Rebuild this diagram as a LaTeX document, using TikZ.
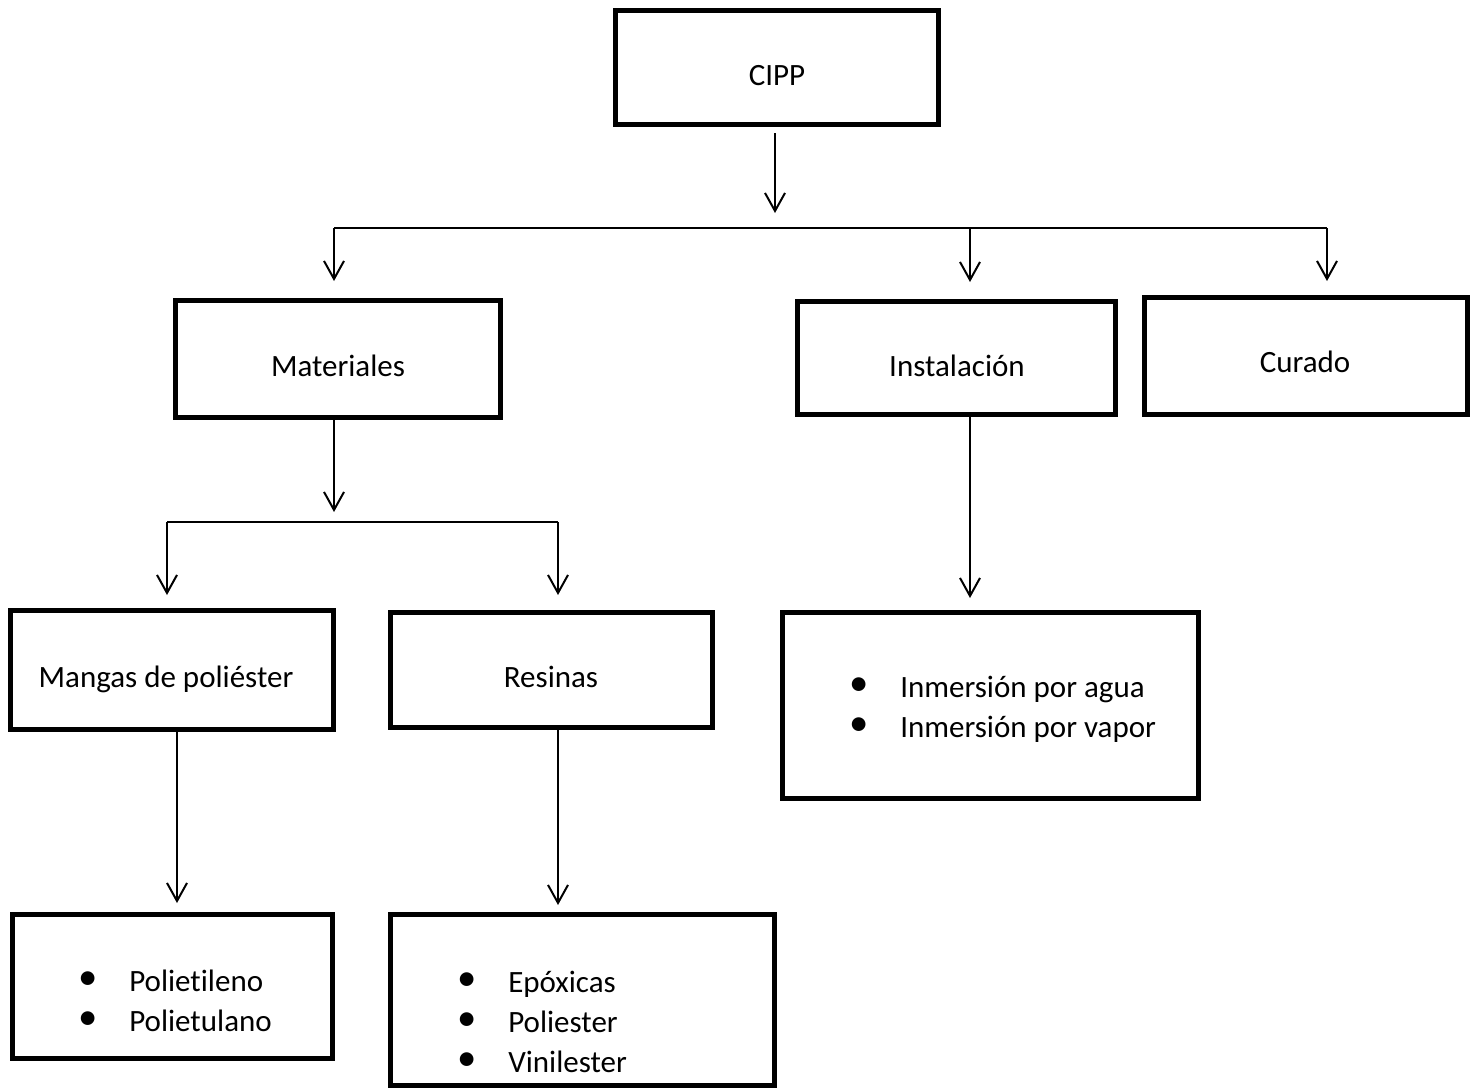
\documentclass[tikz,border=0pt]{standalone}
\usepackage{fontspec}
\setmainfont[Ligatures=NoCommon]{Carlito}
\usetikzlibrary{arrows.meta}
\newcommand{\bul}{\llap{\makebox[82\pxu][c]{\raisebox{0.05em}{\scalebox{1.25}{\textbullet}}}}}
\newlength{\pxu}
\setlength{\pxu}{0.75pt}
\begin{document}
\begin{tikzpicture}[x=0.75pt,y=-0.75pt,
  box/.style 2 args={draw=black, line width=3.75pt, minimum width=#1*0.75pt, minimum height=#2*0.75pt, inner sep=0pt},
  lbl/.style={inner sep=0pt, font=\fontsize{23.25pt}{30pt}\selectfont},
  arr/.style={line width=1.5pt, -{Straight Barb[length=13.5pt,width=15pt,line width=1.5pt]}},
  ln/.style={line width=1.5pt}]
\useasboundingbox (0,0) rectangle (1476,1089);

% boxes
\node[box={323}{114}] (cipp) at (777,67.5) {};
\node[box={325}{116.5}] (mat) at (338,358.75) {};
\node[box={318}{113}] (inst) at (956,357.5) {};
\node[box={323}{117}] (cur) at (1306,356) {};
\node[box={323}{119}] (mang) at (172,670) {};
\node[box={322}{115}] (res) at (551,669.5) {};
\node[box={416}{186}] (inm) at (990,705) {};
\node[box={320}{144}] (poli) at (172,986) {};
\node[box={384}{171}] (epo) at (582,999.5) {};

% labels
\node[lbl, anchor=base] (cippT) at (777,85) {CIPP};
\node[lbl, anchor=base] (matT) at (338,376) {Materiales};
\node[lbl, anchor=base] (instT) at (957,376) {Instalación};
\node[lbl, anchor=base] (curT) at (1305,372) {Curado};
\node[lbl, anchor=base] (mangT) at (166,687) {Mangas de poliéster};
\node[lbl, anchor=base] (resT) at (551,687) {Resinas};
\node[lbl, anchor=base west] (inmT) at (900,697) {\fontsize{23.25pt}{30pt}\selectfont\begin{tabular}[t]{@{}l@{}}\bul Inmersión por agua\\ \bul Inmersión por vapor\end{tabular}};
\node[lbl, anchor=base west] (poliT) at (129,991) {\fontsize{23.25pt}{30pt}\selectfont\begin{tabular}[t]{@{}l@{}}\bul Polietileno\\ \bul Polietulano\end{tabular}};
\node[lbl, anchor=base west] (epoT) at (508,992) {\fontsize{23.25pt}{30pt}\selectfont\begin{tabular}[t]{@{}l@{}}\bul Epóxicas\\ \bul Poliester\\ \bul Vinilester\end{tabular}};

% connector coordinates
\coordinate (c0s) at (775,133);
\coordinate (c0e) at (775,213);
\coordinate (h1L) at (334,228);
\coordinate (h1M) at (970,228);
\coordinate (h1R) at (1327,228);
\coordinate (a1L) at (334,281);
\coordinate (a1M) at (970,282);
\coordinate (a1R) at (1327,281);
\coordinate (m0s) at (334,420);
\coordinate (m0e) at (334,512);
\coordinate (h2L) at (167,522);
\coordinate (h2R) at (558,522);
\coordinate (a2L) at (167,595);
\coordinate (a2R) at (558,595);
\coordinate (i0s) at (970,416);
\coordinate (i0e) at (970,598);
\coordinate (g0s) at (177,730);
\coordinate (g0e) at (177,903);
\coordinate (r0s) at (558,728);
\coordinate (r0e) at (558,905);

\draw[arr] (c0s) -- (c0e);
\draw[ln] (h1L) -- (h1R);
\draw[arr] (h1L) -- (a1L);
\draw[arr] (h1M) -- (a1M);
\draw[arr] (h1R) -- (a1R);
\draw[arr] (m0s) -- (m0e);
\draw[ln] (h2L) -- (h2R);
\draw[arr] (h2L) -- (a2L);
\draw[arr] (h2R) -- (a2R);
\draw[arr] (i0s) -- (i0e);
\draw[arr] (g0s) -- (g0e);
\draw[arr] (r0s) -- (r0e);
\end{tikzpicture}
\end{document}
